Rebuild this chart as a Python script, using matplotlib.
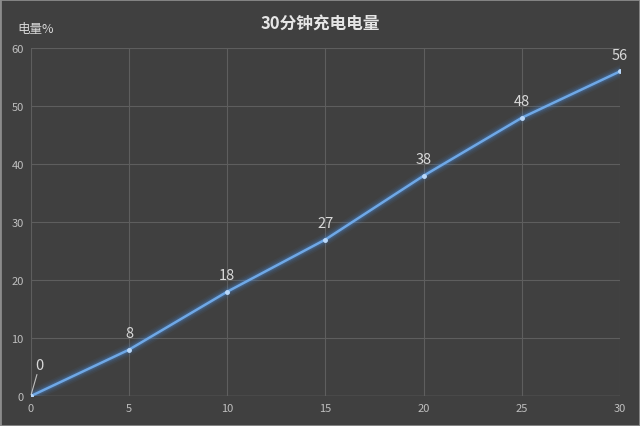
import matplotlib
matplotlib.use("Agg")
import matplotlib.pyplot as plt

plt.rcParams['font.family'] = ['Noto Sans CJK SC', 'DejaVu Sans']

minutes = [0, 5, 10, 15, 20, 25, 30]
charge = [0, 8, 18, 27, 38, 48, 56]
x_ticks = [0, 5, 10, 15, 20, 25, 30]
y_ticks = [0, 10, 20, 30, 40, 50, 60]

bg = '#404040'
fig = plt.figure(figsize=(6.4, 4.27), dpi=100, facecolor=bg)
ax = fig.add_axes([0.048, 0.070, 0.921, 0.815])
ax.set_facecolor(bg)

# glow around the line
for lw, a in [(9, 0.06), (7, 0.08), (5, 0.12), (3.5, 0.18)]:
    ax.plot(minutes, charge, color='#4a90e2', lw=lw, alpha=a, solid_capstyle='round', zorder=2)
ax.plot(minutes, charge, color='#6fa8e6', lw=1.8, zorder=3)
ax.plot(minutes, charge, 'o', color='#b9d8fa', ms=2.5, zorder=4)

for x, y in zip(minutes, charge):
    if x == 0:
        ax.annotate(str(y), xy=(x, y), xytext=(x + 0.25, y + 4.2), color='#d9d9d9',
                    fontsize=10.5, ha='left', va='bottom',
                    arrowprops=dict(arrowstyle='-', color='#bfbfbf', lw=0.8, shrinkA=0, shrinkB=1))
    else:
        ax.text(x, y + 1.6, str(y), color='#d9d9d9', fontsize=10.5, ha='center', va='bottom')

ax.set_xlim(0, 30)
ax.set_ylim(0, 60)
ax.set_xticks(x_ticks)
ax.set_yticks(y_ticks)
ax.grid(True, color='#5e5e5e', lw=0.8)
ax.tick_params(colors='#bfbfbf', labelsize=8, length=0, pad=5)
for s in ax.spines.values():
    s.set_visible(False)
ax.axhline(0, color='#6a6a6a', lw=1, zorder=1)

fig.text(0.5, 0.945, '30分钟充电电量', color='#e6e6e6', fontsize=12, fontweight='bold',
         ha='center', va='center')
fig.text(0.027, 0.93, '电量%', color='#d9d9d9', fontsize=9, ha='left', va='center')

fig.patches.append(plt.Rectangle((0, 0), 1, 1, transform=fig.transFigure, fill=False,
                                 edgecolor='#8c8c8c', lw=2))

fig.savefig('out.png', dpi=100, facecolor=bg)
